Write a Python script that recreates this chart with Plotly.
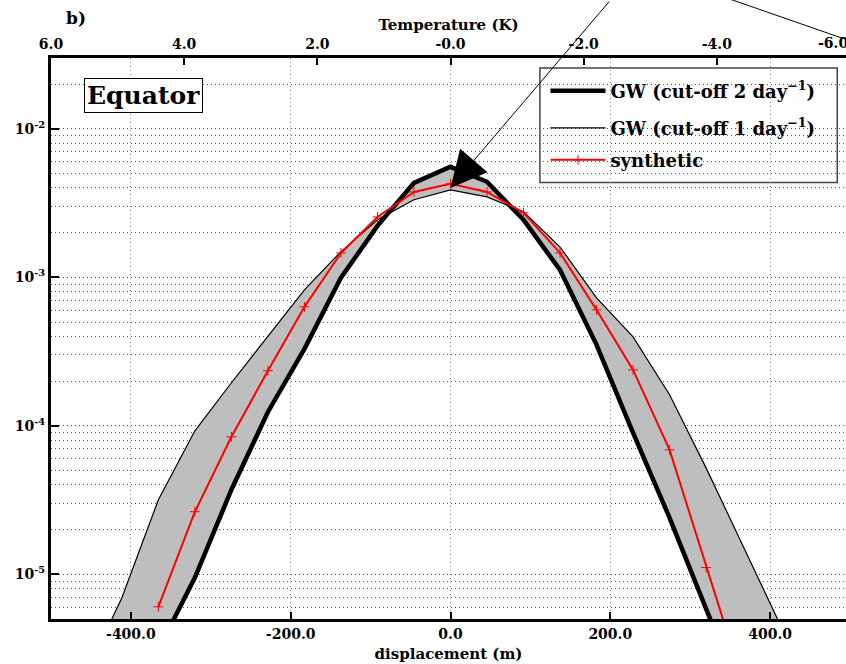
import numpy as np
import plotly.graph_objects as go

# Displacement bin centres (m)
disp_gw2 = [-365.6, -319.9, -274.2, -228.5, -182.8, -137.1, -91.4, -45.7, 0.0,
            45.7, 91.4, 137.1, 182.8, 228.5, 274.2, 319.9, 365.6]
disp_gw1 = [-457.0, -411.3, -365.6, -319.9, -274.2, -228.5, -182.8, -137.1, -91.4, -45.7, 0.0,
            45.7, 91.4, 137.1, 182.8, 228.5, 274.2, 319.9, 365.6, 411.3, 457.0]
disp_syn = disp_gw2

# Probability density of displacement
gw_cut2 = [3.1e-6, 9.5e-6, 3.71e-5, 1.24e-4, 3.30e-4, 9.93e-4, 2.22e-3, 4.33e-3, 5.55e-3,
           4.40e-3, 2.44e-3, 1.12e-3, 3.51e-4, 8.97e-5, 2.40e-5, 5.94e-6, 1.43e-6]
gw_cut1 = [2.1e-6, 6.95e-6, 3.18e-5, 9.25e-5, 1.95e-4, 4.04e-4, 8.24e-4, 1.49e-3, 2.44e-3,
           3.33e-3, 3.88e-3, 3.48e-3, 2.76e-3, 1.60e-3, 7.28e-4, 3.97e-4, 1.62e-4, 5.21e-5,
           1.56e-5, 4.79e-6, 1.43e-6]
synthetic = [6.04e-6, 2.64e-5, 8.43e-5, 2.35e-4, 6.33e-4, 1.46e-3, 2.55e-3, 3.76e-3, 4.27e-3,
             3.76e-3, 2.72e-3, 1.46e-3, 6.04e-4, 2.38e-4, 6.89e-5, 1.11e-5, 1.9e-6]

series_names = ["GW (cut-off 2 day<sup>\u22121</sup>)",
                "GW (cut-off 1 day<sup>\u22121</sup>)",
                "synthetic"]

# Axis settings
x_range = [-500.0, 495.0]
y_range = [5e-6, 3e-2]
k_per_m = -0.012  # temperature perturbation per metre of displacement
disp_ticks = [-400, -200, 0, 200, 400]
disp_ticktext = ["-400.0", "-200.0", "0.0", "200.0", "400.0"]
temp_ticks = [6, 4, 2, 0, -2, -4]
temp_ticktext = ["6.0", "4.0", "2.0", "-0.0", "-2.0", "-4.0"]
decades = [1e-5, 1e-4, 1e-3, 1e-2]
decade_text = ["10<sup>-5</sup>", "10<sup>-4</sup>", "10<sup>-3</sup>", "10<sup>-2</sup>"]
minor_vals = [m * d for d in [1e-6, 1e-5, 1e-4, 1e-3, 1e-2] for m in range(2, 10)]

FONT = "DejaVu Serif"
DOTS = "1px,3px"


def bold(labels):
    return ["<b>%s</b>" % s for s in labels]


fig = go.Figure()

# shaded band between the two GW curves
band_x = disp_gw1 + disp_gw2[::-1]
band_y = gw_cut1 + gw_cut2[::-1]
fig.add_trace(go.Scatter(x=band_x, y=band_y, fill="toself", fillcolor="#bebebe",
                         mode="none", showlegend=False, hoverinfo="skip"))

fig.add_trace(go.Scatter(x=disp_gw2, y=gw_cut2, mode="lines",
                         line=dict(color="black", width=4.5),
                         name="<b>%s</b>" % series_names[0], legend="legend"))
fig.add_trace(go.Scatter(x=disp_gw1, y=gw_cut1, mode="lines",
                         line=dict(color="black", width=1.2),
                         name="<b>%s</b>" % series_names[1], legend="legend2"))
fig.add_trace(go.Scatter(x=disp_syn, y=synthetic, mode="lines+markers",
                         line=dict(color="red", width=2),
                         marker=dict(symbol="cross-thin", size=7,
                                     line=dict(color="red", width=1)),
                         name="<b>%s</b>" % series_names[2], legend="legend3"))

# invisible trace so that the temperature axis is drawn
fig.add_trace(go.Scatter(x=[x_range[0] * k_per_m], y=[1e-3], xaxis="x2",
                         mode="markers", marker=dict(opacity=0),
                         showlegend=False, hoverinfo="skip"))

tickfont = dict(family=FONT, size=14, color="black")
legend_font = dict(family=FONT, size=18, color="black")


def legend_at(ypaper):
    return dict(x=0.622, y=ypaper, xanchor="left", yanchor="middle",
                bgcolor="rgba(0,0,0,0)", borderwidth=0, font=legend_font,
                itemwidth=55)


fig.update_layout(
    width=846, height=664,
    margin=dict(l=51, r=0, t=58, b=45),
    paper_bgcolor="white", plot_bgcolor="white",
    font=dict(family=FONT, color="black"),
    xaxis=dict(range=x_range, tickvals=disp_ticks, ticktext=bold(disp_ticktext),
               tickfont=tickfont, ticks="inside", ticklen=7, tickwidth=2,
               tickcolor="black", showline=True, linewidth=3, linecolor="black",
               showgrid=True, gridcolor="#888", griddash=DOTS, gridwidth=1,
               zeroline=False,
               title=dict(text="<b>displacement (m)</b>",
                          font=dict(family=FONT, size=15), standoff=8)),
    xaxis2=dict(overlaying="x", side="top", anchor="y",
                range=[x_range[0] * k_per_m, x_range[1] * k_per_m],
                tickvals=temp_ticks, ticktext=bold(temp_ticktext),
                tickfont=tickfont, ticks="inside", ticklen=7, tickwidth=2,
                tickcolor="black", showline=True, linewidth=3, linecolor="black",
                showgrid=False, zeroline=False,
                title=dict(text="<b>Temperature (K)</b>",
                           font=dict(family=FONT, size=15), standoff=3)),
    yaxis=dict(type="log", range=[np.log10(y_range[0]), np.log10(y_range[1])],
               tickvals=decades, ticktext=bold(decade_text), tickfont=tickfont,
               ticks="inside", ticklen=8, tickwidth=2, tickcolor="black",
               showline=True, linewidth=3, linecolor="black",
               showgrid=True, gridcolor="#444", griddash=DOTS, gridwidth=1,
               zeroline=False,
               minor=dict(tickvals=minor_vals, showgrid=True, gridcolor="#555",
                          griddash=DOTS, gridwidth=1, ticks="")),
    legend=legend_at(0.941),
    legend2=legend_at(0.875),
    legend3=legend_at(0.818),
    showlegend=True,
)

# legend frame
fig.add_shape(type="rect", xref="paper", yref="paper", layer="below",
              x0=0.615, x1=0.989, y0=0.778, y1=0.982,
              line=dict(color="#444", width=1.5), fillcolor="white")

# label of the -6 K tick at the right edge
x2_lo, x2_hi = x_range[0] * k_per_m, x_range[1] * k_per_m
fig.add_annotation(text="<b>-6.0</b>", xref="paper", yref="paper",
                   x=(-6 - x2_lo) / (x2_hi - x2_lo), y=1.0, yanchor="bottom", yshift=5,
                   showarrow=False, font=dict(family=FONT, size=14, color="black"))

# region name
fig.add_annotation(text="<b>Equator</b>", xref="paper", yref="paper",
                   x=0.0415, y=0.965, xanchor="left", yanchor="top", showarrow=False,
                   font=dict(family=FONT, size=25, color="black"),
                   bordercolor="black", borderwidth=1, borderpad=2, bgcolor="white")

# panel letter
fig.add_annotation(text="<b>b)</b>", xref="paper", yref="paper",
                   x=0.016, y=1.072, xanchor="left", yanchor="middle", showarrow=False,
                   font=dict(family=FONT, size=17, color="black"))

# arrow pointing at the distribution peak
fig.add_annotation(x=0, y=np.log10(4.0e-3), xref="x", yref="y", text="",
                   showarrow=True, arrowhead=2, arrowsize=7.2, arrowwidth=1,
                   arrowcolor="black", ax=160, ay=-198, axref="pixel", ayref="pixel")

# connector line running off the top right
fig.add_shape(type="line", xref="paper", yref="paper",
              x0=0.854, y0=1.105, x1=1.006, y1=1.030,
              line=dict(color="black", width=1))

fig.write_html("out.html")
